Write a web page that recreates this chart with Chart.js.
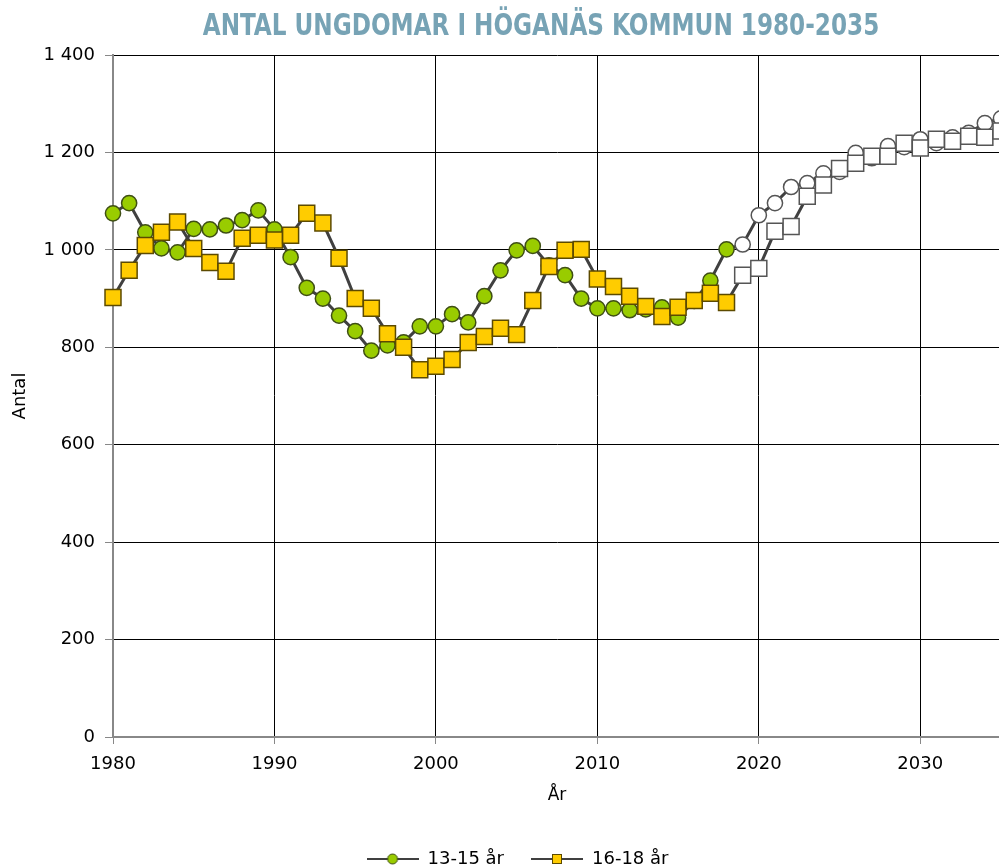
<!DOCTYPE html>
<html lang="sv">
<head>
<meta charset="utf-8">
<title>Antal ungdomar i Höganäs kommun 1980-2035</title>
<script src="https://cdn.jsdelivr.net/npm/chart.js@4.4.1/dist/chart.umd.min.js"></script>
<style>
  html, body { margin: 0; padding: 0; background: #fff; overflow: hidden; }
  #wrap { position: relative; width: 1003px; height: 878px; }
  #wrap canvas { position: absolute; left: 0; top: 0; }
  #title {
    position: absolute; left: 0; top: 6px; width: 1082px; text-align: center;
    font-family: "Liberation Sans Narrow", "DejaVu Sans Condensed", sans-serif;
    font-weight: bold; font-size: 31px; color: #77a3b5; z-index: 2;
    transform: scaleX(0.83); white-space: nowrap;
  }
</style>
</head>
<body>
<div id="wrap">
  <div id="title">ANTAL UNGDOMAR I HÖGANÄS KOMMUN 1980-2035</div>
  <canvas id="youthChart" width="1003" height="878"></canvas>
</div>
<script>
// år och antal ungdomar (från 2019 = prognos)
const years = [
  1980, 1981, 1982, 1983, 1984, 1985, 1986, 1987, 1988, 1989,
  1990, 1991, 1992, 1993, 1994, 1995, 1996, 1997, 1998, 1999,
  2000, 2001, 2002, 2003, 2004, 2005, 2006, 2007, 2008, 2009,
  2010, 2011, 2012, 2013, 2014, 2015, 2016, 2017, 2018, 2019,
  2020, 2021, 2022, 2023, 2024, 2025, 2026, 2027, 2028, 2029,
  2030, 2031, 2032, 2033, 2034, 2035
];
const age13to15 = [
  1075, 1096, 1036, 1003, 995, 1043, 1042, 1050, 1061, 1081,
  1042, 985, 922, 900, 865, 833, 793, 804, 810, 843,
  843, 868, 851, 905, 958, 999, 1008, 968, 948, 900,
  880, 880, 876, 878, 882, 861, 895, 937, 1001, 1011,
  1071, 1096, 1129, 1137, 1157, 1160, 1199, 1188, 1213, 1211,
  1227, 1219, 1231, 1240, 1260, 1270
];
const age16to18 = [
  902, 958, 1009, 1036, 1057, 1003, 974, 956, 1024, 1030,
  1020, 1030, 1075, 1055, 983, 900, 880, 828, 800, 754,
  761, 775, 810, 822, 839, 826, 896, 966, 999, 1001,
  940, 925, 905, 884, 863, 882, 896, 911, 892, 948,
  962, 1038, 1048, 1110, 1133, 1167, 1178, 1192, 1192, 1219,
  1209, 1227, 1223, 1233, 1231, 1244
];
const seriesLabels = ['13-15 år', '16-18 år'];
const firstForecastYear = 2019;
const yTicks = [0, 200, 400, 600, 800, 1000, 1200, 1400];

const lineColor = '#404040';
const fontFamily = '"DejaVu Sans", sans-serif';

function toPoints(values) {
  return years.map((yr, i) => ({ x: yr, y: values[i] }));
}

function markerColors(normal, forecast) {
  return years.map(yr => (yr >= firstForecastYear ? forecast : normal));
}

// liten bild för legenden: linje med markör i mitten
function legendSymbol(fill, stroke, shape) {
  const c = document.createElement('canvas');
  c.width = 52;
  c.height = 14;
  const g = c.getContext('2d');
  g.strokeStyle = lineColor;
  g.lineWidth = 2;
  g.beginPath();
  g.moveTo(0, 7);
  g.lineTo(52, 7);
  g.stroke();
  g.fillStyle = fill;
  g.strokeStyle = stroke;
  g.lineWidth = 1;
  if (shape === 'circle') {
    g.beginPath();
    g.arc(26, 7, 5, 0, Math.PI * 2);
    g.fill();
    g.stroke();
  } else {
    g.fillRect(21, 2, 10, 10);
    g.strokeRect(21.5, 2.5, 9, 9);
  }
  return c;
}

const legendIcons = [
  legendSymbol('#99cc00', '#3f4f14', 'circle'),
  legendSymbol('#ffcc00', '#5c4a00', 'rect')
];

function formatThousands(v) {
  return String(v).replace(/\B(?=(\d{3})+$)/g, ' ');
}

// flytta legenden lite åt höger, som i originalet
const legendShift = {
  id: 'legendShift',
  afterLayout(chart) {
    chart.legend.left += 17;
    chart.legend.right += 17;
  }
};

const ctx = document.getElementById('youthChart').getContext('2d');

new Chart(ctx, {
  type: 'line',
  data: {
    datasets: [
      {
        label: seriesLabels[0],
        data: toPoints(age13to15),
        borderColor: lineColor,
        borderWidth: 3,
        pointStyle: 'circle',
        pointRadius: 7.6,
        pointBorderWidth: 1.5,
        pointBackgroundColor: markerColors('#99cc00', '#ffffff'),
        pointBorderColor: markerColors('#3f4f14', '#555555'),
        tension: 0,
        clip: false,
        order: 1
      },
      {
        label: seriesLabels[1],
        data: toPoints(age16to18),
        borderColor: lineColor,
        borderWidth: 3,
        pointStyle: 'rect',
        pointRadius: 11.3,
        pointBorderWidth: 1.5,
        pointBackgroundColor: markerColors('#ffcc00', '#ffffff'),
        pointBorderColor: markerColors('#5c4a00', '#555555'),
        tension: 0,
        clip: false,
        order: 0
      }
    ]
  },
  options: {
    responsive: false,
    animation: false,
    devicePixelRatio: 1,
    layout: { autoPadding: false, padding: { left: 0, right: 2, top: 55, bottom: 0 } },
    scales: {
      x: {
        type: 'linear',
        min: 1980,
        max: 2035,
        afterBuildTicks: s => { s.ticks = s.ticks.filter(t => t.value % 10 === 0); },
        afterFit: s => {
          s.height = 86;
          s.paddingLeft = 0;
          s.paddingRight = 0;
        },
        ticks: {
          stepSize: 10,
          autoSkip: false,
          maxRotation: 0,
          padding: 10,
          color: '#000',
          font: { family: fontFamily, size: 18 },
          callback: v => String(v)
        },
        grid: {
          color: c => (c.index === 0 ? '#888888' : '#000000'),
          lineWidth: 1,
          tickLength: 7,
          tickColor: '#888888'
        },
        border: { color: '#888888', width: 2 },
        title: {
          display: true,
          text: 'År',
          color: '#000',
          font: { family: fontFamily, size: 17 },
          padding: { top: 0, bottom: 17 }
        }
      },
      y: {
        min: 0,
        max: 1400,
        afterBuildTicks: s => { s.ticks = yTicks.map(v => ({ value: v })); },
        afterFit: s => { s.width = 113; },
        ticks: {
          stepSize: 200,
          padding: 10,
          color: '#000',
          font: { family: fontFamily, size: 18 },
          callback: v => formatThousands(v)
        },
        grid: {
          color: c => (c.tick && c.tick.value === 0 ? '#888888' : '#000000'),
          lineWidth: 1,
          tickLength: 8,
          tickColor: '#888888'
        },
        border: { color: '#888888', width: 2 },
        title: {
          display: true,
          text: 'Antal',
          color: '#000',
          font: { family: fontFamily, size: 18 },
          padding: { top: 10, bottom: 0 }
        }
      }
    },
    plugins: {
      tooltip: { enabled: false },
      title: { display: false },
      legend: {
        position: 'bottom',
        labels: {
          usePointStyle: true,
          pointStyleWidth: 52,
          padding: 27,
          color: '#000',
          font: { family: fontFamily, size: 18 },
          generateLabels: chart => chart.data.datasets.map((ds, i) => ({
            text: ds.label,
            pointStyle: legendIcons[i],
            datasetIndex: i,
            hidden: false,
            fontColor: '#000',
            lineWidth: 0,
            strokeStyle: 'transparent',
            fillStyle: 'transparent'
          }))
        }
      }
    }
  },
  plugins: [legendShift]
});
</script>
</body>
</html>
